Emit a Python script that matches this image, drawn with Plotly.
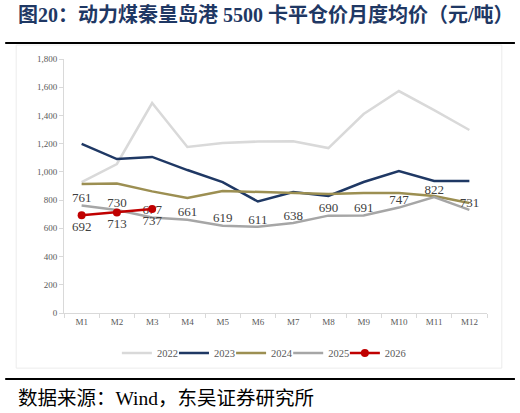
import plotly.graph_objects as go

months = ["M1", "M2", "M3", "M4", "M5", "M6", "M7", "M8", "M9", "M10", "M11", "M12"]
p2022 = [928, 1056, 1488, 1176, 1205, 1215, 1217, 1169, 1410, 1573, 1438, 1297]
p2023 = [1198, 1091, 1106, 1013, 928, 790, 857, 829, 928, 1006, 935, 935]
p2024 = [914, 918, 862, 815, 865, 857, 850, 843, 850, 850, 829, 780]
p2025 = [761, 730, 677, 661, 619, 611, 638, 690, 691, 747, 822, 731]
p2026 = [692, 713, 737]

serif = "Liberation Serif, Noto Sans CJK SC"
label_font = dict(family=serif, size=13, color="#404040")

fig = go.Figure()
fig.add_trace(go.Scatter(x=months, y=p2022, name="2022", mode="lines", legend="legend",
                         line=dict(color="#d9d9d9", width=2.5)))
fig.add_trace(go.Scatter(x=months, y=p2023, name="2023", mode="lines", legend="legend2",
                         line=dict(color="#1f3864", width=2.5)))
fig.add_trace(go.Scatter(x=months, y=p2024, name="2024", mode="lines", legend="legend3",
                         line=dict(color="#9c8f52", width=2.5)))
fig.add_trace(go.Scatter(x=months, y=p2025, name="2025", mode="lines+text", legend="legend4",
                         line=dict(color="#a6a6a6", width=2.5),
                         text=[str(v) for v in p2025], textposition="top center",
                         textfont=label_font))
fig.add_trace(go.Scatter(x=months[:3], y=p2026, name="2026", mode="lines+markers+text",
                         legend="legend5",
                         line=dict(color="#c00000", width=2.5),
                         marker=dict(color="#c00000", size=8),
                         text=[str(v) for v in p2026], textposition="bottom center",
                         textfont=label_font))

fig.add_annotation(text="<b>图20：动力煤秦皇岛港 5500 卡平仓价月度均价（元/吨）</b>",
                   xref="paper", yref="paper", x=-0.113, y=1.177, xanchor="left",
                   yanchor="middle", showarrow=False,
                   font=dict(family=serif, size=20, color="#1f3864"))
fig.add_annotation(text="数据来源：Wind，东吴证券研究所",
                   xref="paper", yref="paper", x=-0.113, y=-0.335, xanchor="left",
                   yanchor="middle", showarrow=False,
                   font=dict(family=serif, size=19.5, color="#000000"))

# frame lines
fig.add_shape(type="line", xref="paper", yref="paper", x0=-0.139, x1=1.066,
              y0=1.063, y1=1.063, line=dict(color="#000000", width=2))
fig.add_shape(type="line", xref="paper", yref="paper", x0=-0.139, x1=1.066,
              y0=-0.26, y1=-0.26, line=dict(color="#000000", width=2))
fig.add_shape(type="rect", xref="paper", yref="paper", x0=-0.113, x1=1.035,
              y0=-0.217, y1=1.055, line=dict(color="#ececec", width=1))

# one legend per series so the items sit as tightly as in the source chart
legend_font = dict(family=serif, size=10.5, color="#595959")
legend_x = [0.125, 0.260, 0.395, 0.530, 0.664]
legends = {}
for i, lx in enumerate(legend_x):
    key = "legend" if i == 0 else f"legend{i + 1}"
    legends[key] = dict(x=lx, xanchor="left", y=-0.157, yanchor="middle",
                        font=legend_font, itemwidth=30, bgcolor="rgba(0,0,0,0)")

fig.update_layout(
    width=520, height=413,
    margin=dict(l=64, r=33, t=59, b=100),
    paper_bgcolor="white", plot_bgcolor="white",
    showlegend=True,
    xaxis=dict(range=[-0.5, 11.5], showline=True, linecolor="#d9d9d9",
               ticks="outside", tickson="boundaries", ticklen=4, tickcolor="#d9d9d9",
               tickfont=dict(family=serif, size=9, color="#595959"),
               showgrid=False, zeroline=False),
    yaxis=dict(range=[0, 1800], dtick=200, tickformat=",", showline=True,
               linecolor="#d9d9d9", ticks="outside", ticklen=4, tickcolor="#d9d9d9",
               tickfont=dict(family=serif, size=9, color="#595959"),
               showgrid=False, zeroline=False),
    **legends,
)

# drop the page's default body margin so the figure sits at the top-left corner
fig.write_html("out.html", config={"displayModeBar": False},
               post_script="document.body.style.margin='0';")
